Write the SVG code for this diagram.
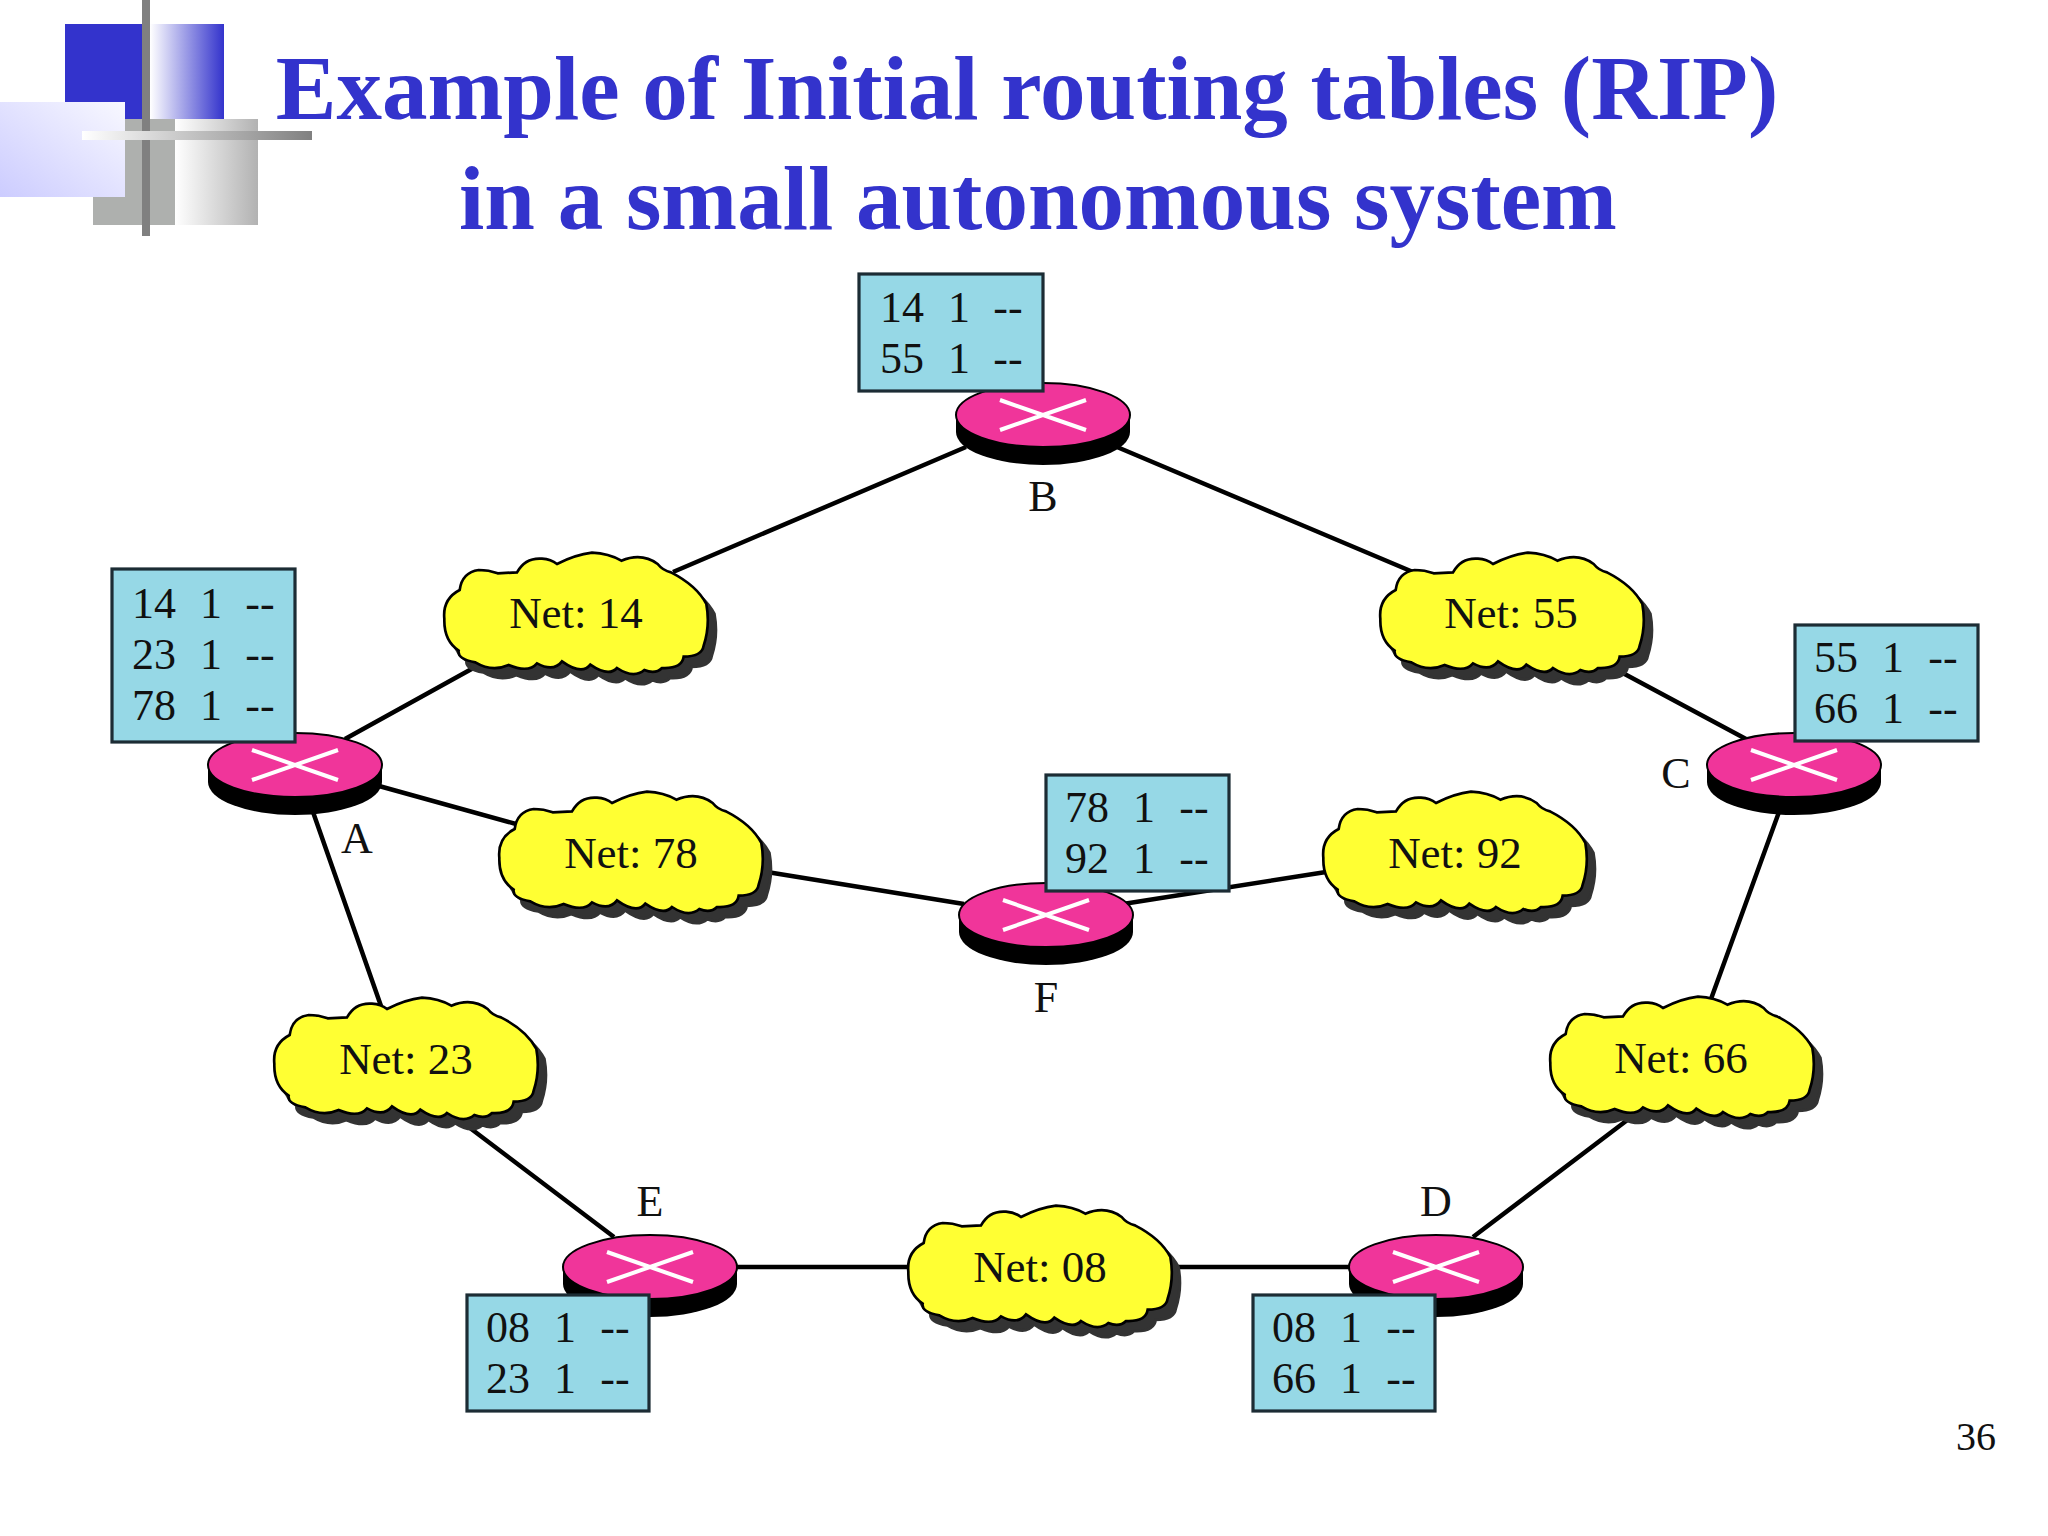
<svg xmlns="http://www.w3.org/2000/svg" xmlns:xlink="http://www.w3.org/1999/xlink" width="2048" height="1536" viewBox="0 0 2048 1536">
<style>
text{font-family:"Liberation Serif","Times New Roman",serif;fill:#111}
.title{font-size:91px;font-weight:bold;fill:#3333cc;text-anchor:middle}
.lab{font-size:44px;text-anchor:middle}
.net{font-size:45px;text-anchor:middle}
.tb{font-size:44px;text-anchor:middle}
.box{fill:#96d8e6;stroke:#1c2c34;stroke-width:3.2}
.ln{stroke:#000;stroke-width:4.5;fill:none}
.x{stroke:#fff;stroke-width:4}
.top{fill:#f0359a;stroke:#000;stroke-width:2}
</style>
<defs>
<linearGradient id="gb" x1="0" x2="1" y1="0" y2="0"><stop offset="0" stop-color="#fff"/><stop offset="1" stop-color="#3333cc"/></linearGradient>
<linearGradient id="gg" x1="0" x2="1" y1="0" y2="0"><stop offset="0" stop-color="#fff"/><stop offset="1" stop-color="#b2b2b2"/></linearGradient>
<linearGradient id="gl" x1="0" x2="1" y1="1" y2="0"><stop offset="0" stop-color="#ccccff"/><stop offset="1" stop-color="#f8f8ff"/></linearGradient>
<linearGradient id="gh" x1="0" x2="1" y1="0" y2="0"><stop offset="0" stop-color="#fff"/><stop offset="1" stop-color="#808080"/></linearGradient>
<path id="cp" transform="scale(.3333) translate(-467,-250)" d="M72,265 Q66,205 118,178 Q125,125 175,118 Q205,118 232,128 L290,125 Q315,80 365,84 Q392,86 410,100 Q465,72 515,66 Q565,68 603,90 Q665,65 712,100 Q728,120 752,125 Q830,165 858,220 Q870,285 850,345 Q845,378 790,378 Q785,415 725,412 Q705,432 672,418 Q640,445 590,412 Q565,440 510,402 Q485,435 425,392 Q400,425 350,398 Q325,428 265,403 Q215,425 165,395 Q110,385 115,360 Q70,330 72,265Z"/>
<g id="cloud">
<use xlink:href="#cp" href="#cp" transform="translate(8,10)" fill="#333" stroke="#333" stroke-width="9"/>
<use xlink:href="#cp" href="#cp" fill="#ffff33" stroke="#000" stroke-width="8"/>
</g>
<g id="router">
<path d="M-87,0 V17 A87,33 0 0 0 87,17 V0Z" fill="#000"/>
<ellipse class="top" rx="87" ry="32"/>
<path class="x" d="M-43,-15 L43,15 M-43,15 L43,-15"/>
</g>
</defs>
<rect width="2048" height="1536" fill="#fff"/>
<g id="decoration">
<rect x="65" y="24" width="78" height="95" fill="#3333cc"/>
<rect x="150" y="24" width="74" height="95" fill="url(#gb)"/>
<rect x="93" y="119" width="82" height="106" fill="#aeb0ae"/>
<rect x="175" y="119" width="83" height="106" fill="url(#gg)"/>
<rect x="0" y="102" width="125" height="95" fill="url(#gl)"/>
<rect x="142" y="0" width="8" height="236" fill="#808080"/>
<rect x="82" y="131" width="230" height="9" fill="url(#gh)"/>
</g>
<g id="title">
<text class="title" x="1027" y="119">Example of Initial routing tables (RIP)</text>
<text class="title" x="1038" y="229">in a small autonomous system</text>
</g>
<g id="connectors">
<path class="ln" d="M345,739L477,666M673,572L966,447M1117,447L1413,572M1619,671L1746,739M379,786L516,824M767,872L964,904M1123,904L1326,872M313,812L381,1006M1779,812L1711,999M470,1128L614,1237M1630,1118L1473,1237M736,1267H908M1175,1267H1349"/>
</g>
<g id="router-B"><use href="#router" x="1043" y="415"/><text class="lab" x="1043" y="511">B</text>
<rect class="box" x="859" y="274" width="184" height="117"/>
<text class="tb" x="902" y="322">14</text><text class="tb" x="959" y="322">1</text><text class="tb" x="1008" y="322">--</text>
<text class="tb" x="902" y="373">55</text><text class="tb" x="959" y="373">1</text><text class="tb" x="1008" y="373">--</text></g>
<g id="router-A"><use href="#router" x="295" y="765"/><text class="lab" x="357" y="853">A</text>
<rect class="box" x="112" y="569" width="183" height="173"/>
<text class="tb" x="154" y="618">14</text><text class="tb" x="211" y="618">1</text><text class="tb" x="260" y="618">--</text>
<text class="tb" x="154" y="669">23</text><text class="tb" x="211" y="669">1</text><text class="tb" x="260" y="669">--</text>
<text class="tb" x="154" y="720">78</text><text class="tb" x="211" y="720">1</text><text class="tb" x="260" y="720">--</text></g>
<g id="router-C"><use href="#router" x="1794" y="765"/><text class="lab" x="1676" y="788">C</text>
<rect class="box" x="1795" y="625" width="183" height="116"/>
<text class="tb" x="1836" y="672">55</text><text class="tb" x="1893" y="672">1</text><text class="tb" x="1943" y="672">--</text>
<text class="tb" x="1836" y="723">66</text><text class="tb" x="1893" y="723">1</text><text class="tb" x="1943" y="723">--</text></g>
<g id="router-F"><use href="#router" x="1046" y="915"/><text class="lab" x="1046" y="1012">F</text>
<rect class="box" x="1046" y="775" width="183" height="116"/>
<text class="tb" x="1087" y="822">78</text><text class="tb" x="1144" y="822">1</text><text class="tb" x="1194" y="822">--</text>
<text class="tb" x="1087" y="873">92</text><text class="tb" x="1144" y="873">1</text><text class="tb" x="1194" y="873">--</text></g>
<g id="router-E"><use href="#router" x="650" y="1267"/><text class="lab" x="650" y="1216">E</text>
<rect class="box" x="467" y="1295" width="182" height="116"/>
<text class="tb" x="508" y="1342">08</text><text class="tb" x="565" y="1342">1</text><text class="tb" x="615" y="1342">--</text>
<text class="tb" x="508" y="1393">23</text><text class="tb" x="565" y="1393">1</text><text class="tb" x="615" y="1393">--</text></g>
<g id="router-D"><use href="#router" x="1436" y="1267"/><text class="lab" x="1436" y="1216">D</text>
<rect class="box" x="1253" y="1295" width="182" height="116"/>
<text class="tb" x="1294" y="1342">08</text><text class="tb" x="1351" y="1342">1</text><text class="tb" x="1401" y="1342">--</text>
<text class="tb" x="1294" y="1393">66</text><text class="tb" x="1351" y="1393">1</text><text class="tb" x="1401" y="1393">--</text></g>
<g id="net-14"><use href="#cloud" x="576" y="614"/><text class="net" x="576" y="628">Net: 14</text></g>
<g id="net-55"><use href="#cloud" x="1512" y="614"/><text class="net" x="1511" y="628">Net: 55</text></g>
<g id="net-78"><use href="#cloud" x="631" y="853"/><text class="net" x="631" y="868">Net: 78</text></g>
<g id="net-92"><use href="#cloud" x="1455" y="853"/><text class="net" x="1455" y="868">Net: 92</text></g>
<g id="net-23"><use href="#cloud" x="406" y="1059"/><text class="net" x="406" y="1074">Net: 23</text></g>
<g id="net-66"><use href="#cloud" x="1682" y="1058"/><text class="net" x="1681" y="1073">Net: 66</text></g>
<g id="net-08"><use href="#cloud" x="1040" y="1267"/><text class="net" x="1040" y="1282">Net: 08</text></g>
<text id="page" x="1976" y="1450" style="font-size:40px;text-anchor:middle">36</text>
</svg>
